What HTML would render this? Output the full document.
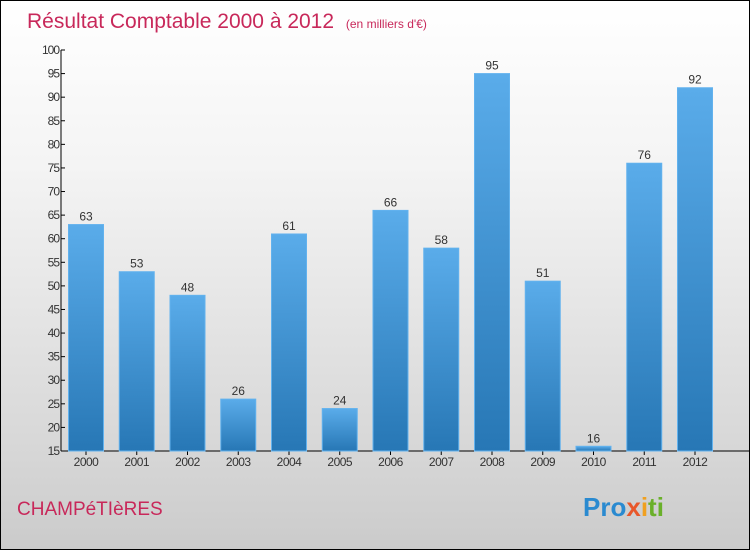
<!DOCTYPE html>
<html><head><meta charset="utf-8"><style>
body{margin:0}
#c{position:relative;width:748px;height:548px;border:1px solid #000;background:linear-gradient(#fff,#f4f4f4 30%,#d8d8d8 80%,#cbcbcb);font-family:"Liberation Sans",sans-serif;overflow:hidden}
</style></head><body>
<div id="c">
<svg width="748" height="548" id="svg">
<defs><linearGradient id="g" x1="0" y1="0" x2="0" y2="1"><stop offset="0" stop-color="#5aacea"/><stop offset="1" stop-color="#2777b5"/></linearGradient></defs>
<text x="26" y="27" font-size="21" fill="#c8285a">Résultat Comptable 2000 à 2012 <tspan font-size="12" dx="6">(en milliers d'€)</tspan></text>
<text x="16" y="514" font-size="19" fill="#c8285a">CHAMPéTIèRES</text>
<text x="582" y="515" font-size="26" font-weight="bold"><tspan fill="#2a8ad0">Pro</tspan><tspan fill="#e8572a">x</tspan><tspan fill="#f0a020">i</tspan><tspan fill="#6ab02a">ti</tspan></text>
<g id="axes"></g><g id="bars"></g>
</svg></div>
<script>
const categories=["2000","2001","2002","2003","2004","2005","2006","2007","2008","2009","2010","2011","2012"];
const values=[63,53,48,26,61,24,66,58,95,51,16,76,92];
const yTicks=[15,20,25,30,35,40,45,50,55,60,65,70,75,80,85,90,95,100];
const NS="http://www.w3.org/2000/svg";
const yMin=15,yMax=100,y0=450,y1=49,x0=60,step=50.75,first=85,bw=35;
const y=v=>y0-(v-yMin)/(yMax-yMin)*(y0-y1);
const x=i=>first+i*step;
function mk(t,a,p){const e=document.createElementNS(NS,t);for(const k in a)e.setAttribute(k,a[k]);p.appendChild(e);return e;}
const ax=document.getElementById('axes'),bs=document.getElementById('bars');
let l=mk('line',{x1:x0,y1:y1,x2:x0,y2:y0,stroke:'#000'},ax);


l=mk('line',{x1:x0,y1:y0,x2:748,y2:y0,stroke:'#000'},ax);


yTicks.forEach(v=>{
 mk('line',{x1:x0,y1:y(v),x2:x0+4,y2:y(v),stroke:'#000'},ax);
 const t=mk('text',{x:x0-2,y:y(v)+4,'font-size':12,fill:'#333','text-anchor':'end','letter-spacing':'-1'},ax);
 t.textContent=v;
 
 
});
categories.forEach((c,i)=>{
 const r=mk('rect',{x:x(i)-bw/2,y:y(values[i]),width:bw,height:y0-y(values[i]),fill:'url(#g)',stroke:'#62b2ee','stroke-width':1},bs);
 
 
 const v=mk('text',{x:x(i),y:y(values[i])-4,'font-size':12,fill:'#333','text-anchor':'middle'},bs);
 v.textContent=values[i];
 
 
 mk('line',{x1:x(i),y1:y0,x2:x(i),y2:y0+4,stroke:'#000'},ax);
 const t=mk('text',{x:x(i),y:y0+15,'font-size':12,fill:'#333','text-anchor':'middle','letter-spacing':'-0.5'},ax);
 t.textContent=c;
 
 
});
</script>
</body></html>
